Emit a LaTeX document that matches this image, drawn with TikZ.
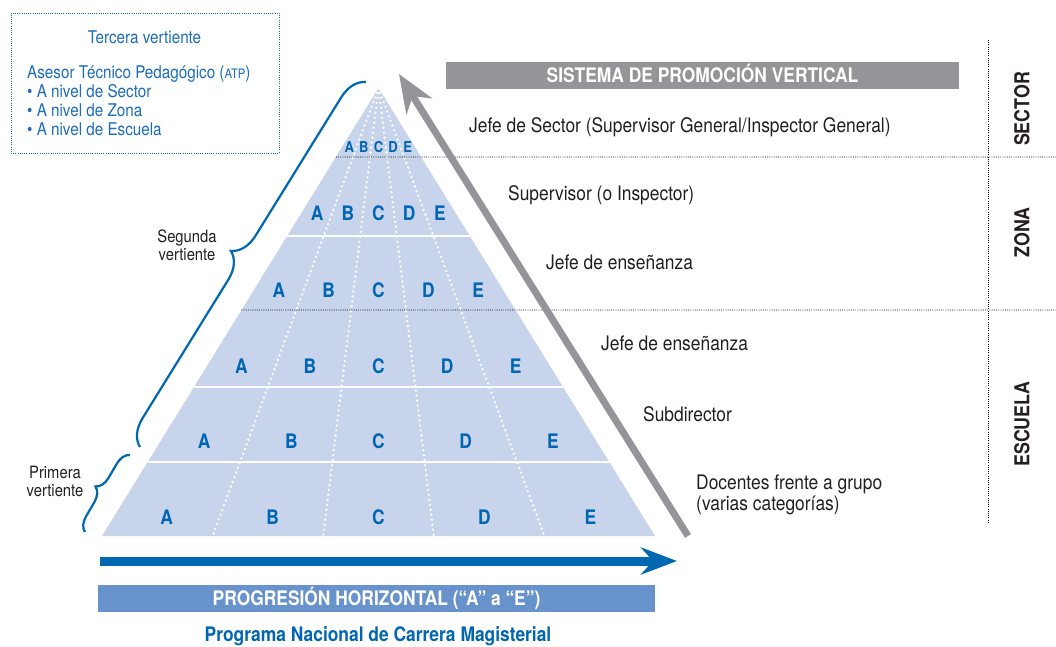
\documentclass[tikz,border=0pt]{standalone}
\usepackage{fontspec}
\setmainfont{TeX Gyre Heros}[FakeStretch=0.87]
\usetikzlibrary{arrows.meta,decorations.pathreplacing,calc}
\definecolor{pyrfill}{RGB}{200,212,236}
\definecolor{pyrblue}{RGB}{0,101,179}
\definecolor{boxblue}{RGB}{28,108,186}
\definecolor{arrowblue}{RGB}{0,103,177}
\definecolor{bannerblue}{RGB}{103,146,204}
\definecolor{graybar}{RGB}{147,149,152}
\definecolor{txt}{RGB}{35,31,32}
\newcommand{\fsz}[2]{\fontsize{#1}{#2}\selectfont}
\tikzset{
  lab/.style={font=\fsz{20}{21.5}, text=txt, inner sep=0pt, anchor=base west},
  smalllab/.style={font=\fsz{17}{18}, text=txt, inner sep=0pt, align=center},
  boxtext/.style={font=\fsz{17.5}{19}, text=boxblue, inner sep=0pt},
  pl/.style={text=pyrblue, inner sep=0pt, anchor=base},
  level/.style={font=\bfseries\fsz{20.5}{21}, text=txt, rotate=90, inner sep=0pt},
  banner/.style={font=\bfseries\fsz{20}{21}, text=white, inner sep=0pt, text height=14pt, text depth=0pt},
  blackdot/.style={black, line width=0.9pt, dash pattern=on 0.9pt off 1.3pt},
  whitedot/.style={white, line width=2.6pt, dash pattern=on 0pt off 5pt, line cap=round},
  bluebrace/.style={arrowblue, line width=2.2pt, decorate},
}
\begin{document}
\begin{tikzpicture}[x=1pt,y=-1pt]
\useasboundingbox (0,0) rectangle (1056,646);

% pyramid
\coordinate (apex) at (378.5,88);
\coordinate (bl) at (102,536);
\coordinate (br) at (655,536);
\fill[pyrfill] (apex) -- (bl) -- (br) -- cycle;
\foreach \t in {0.3304,0.6674,0.8348}
  \draw[white, line width=2pt] ($(apex)!\t!(bl)$) -- ($(apex)!\t!(br)$);
\foreach \i in {1,2,3,4}{
  \coordinate (b\i) at ($(bl)!\i/5!(br)$);
  \draw[whitedot] (apex) -- (b\i);
}

% level dividers
\coordinate (d1l) at ($(apex)!0.154!(bl)$);
\coordinate (d1r) at (1056,157);
\coordinate (d2l) at ($(apex)!0.4955!(bl)$);
\coordinate (d2r) at (1056,310);
\coordinate (vt) at (988,40);
\coordinate (vb) at (988,523);
\draw[blackdot] (d1l) -- (d1r);
\draw[blackdot] (d2l) -- (d2r);
\draw[blackdot] (vt) -- (vb);

% letters
\foreach \b/\s/\f [count=\r] in {152/14.6/15, 220/30.7/20, 297/49.8/20, 373/68.6/20, 448/87.2/20, 524/105.9/20}{
  \foreach \k/\L in {0/A,1/B,2/C,3/D,4/E}{
    \node[pl, font=\bfseries\fsz{\f}{\f}] (L\r\L) at ({378.5+(\k-2)*\s},\b) {\L};
  }
}

% vertical arrow
\coordinate (gA) at (688,536);
\coordinate (gB) at (399,74);
\draw[graybar, line width=7pt, -{Stealth[length=38pt,width=30pt,inset=12pt]}] (gA) -- (gB);

% top banner
\node[banner, fill=graybar, minimum width=513pt, minimum height=27pt] (spv) at (702.5,75.5) {SISTEMA DE PROMOCIÓN VERTICAL};

% right labels
\node[lab] (l1) at (469,132.7) {Jefe de Sector (Supervisor General/Inspector General)};
\node[lab] (l2) at (508,200) {Supervisor (o Inspector)};
\node[lab] (l3) at (546,269) {Jefe de enseñanza};
\node[lab] (l4) at (601,350) {Jefe de enseñanza};
\node[lab] (l5) at (643,421) {Subdirector};
\node[lab, anchor=north west, align=left] (l6) at (696,474.5) {Docentes frente a grupo\\(varias categorías)};

\node[level] (sector) at (1022,109) {SECTOR};
\node[level] (zona) at (1022,232.5) {ZONA};
\node[level] (escuela) at (1022,424) {ESCUELA};

% horizontal arrow
\coordinate (hA) at (100,561);
\coordinate (hB) at (677,561);
\draw[arrowblue, line width=9pt, -{Stealth[length=36pt,width=27pt,inset=12pt]}] (hA) -- (hB);
\node[banner, fill=bannerblue, minimum width=557pt, minimum height=27pt] (ph) at (376.5,598.5) {PROGRESIÓN HORIZONTAL (“A” a “E”)};
\node[pl, font=\bfseries\fsz{20}{21}] (pncm) at (378,641) {Programa Nacional de Carrera Magisterial};

% top-left box
\node[draw=boxblue, line width=1pt, dash pattern=on 1pt off 1.2pt, minimum width=268pt, minimum height=140pt, inner sep=0pt] (tbox) at (145,83) {};
\node[boxtext, anchor=base] (t0) at (144.5,43) {Tercera vertiente};
\node[boxtext, anchor=north west, align=left] (t1) at (27,66) {Asesor Técnico Pedagógico ({\fsz{13}{13}ATP})\\• A nivel de Sector\\• A nivel de Zona\\• A nivel de Escuela};

% braces
\coordinate (pb1) at (85,532);
\coordinate (pb2) at (130,455);
\draw[bluebrace, decoration={brace, amplitude=14pt}] (pb1) -- (pb2);
\coordinate (sb1) at (140,447);
\coordinate (sb2) at (366,82);
\draw[bluebrace, decoration={brace, amplitude=26pt}] (sb1) -- (sb2);
\node[smalllab] (seg) at (187,245) {Segunda\\vertiente};
\node[smalllab] (pri) at (55,481) {Primera\\vertiente};
\end{tikzpicture}
\end{document}
